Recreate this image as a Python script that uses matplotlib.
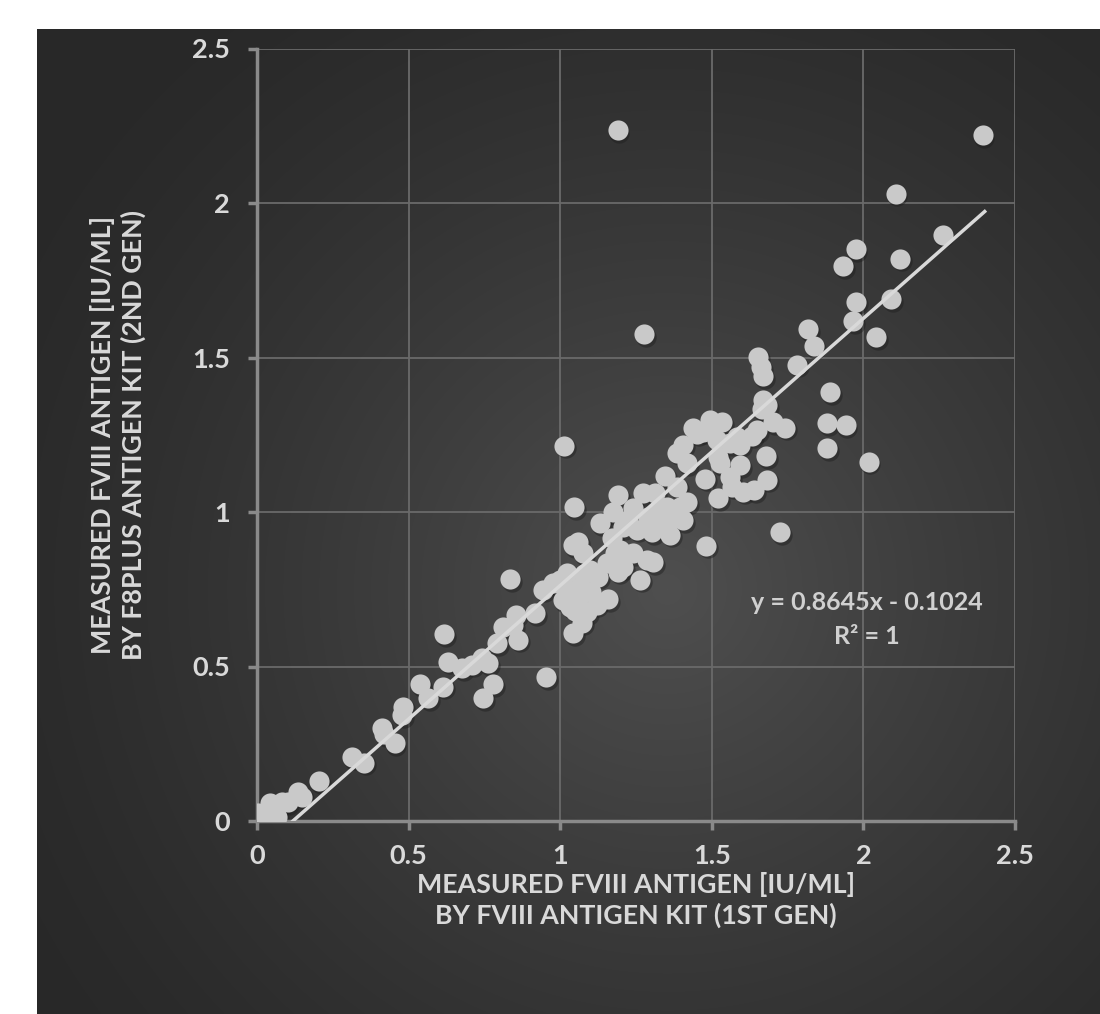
import numpy as np
import matplotlib.pyplot as plt
from matplotlib import transforms

# FVIII antigen measured with the 1st-gen kit (x) and the F8plus kit (y)
kit_1st = [0.003, 0.02, 0.043, 0.053, 0.066, 0.083, 0.102, 0.135, 0.149, 0.205,
           0.314, 0.353, 0.413, 0.42, 0.455, 0.479, 0.482, 0.538, 0.564, 0.614,
           0.617, 0.63, 0.677, 0.71, 0.743, 0.762, 0.746, 0.779, 0.792, 0.812,
           0.835, 0.845, 0.855, 0.861, 0.917, 0.944, 0.954, 0.977, 1.01, 1.023,
           1.033, 1.043, 1.043, 1.073, 1.066, 1.089, 1.013, 1.046, 1.059, 1.076,
           1.099, 1.125, 1.132, 1.155, 1.158, 1.172, 1.175, 1.182, 1.191, 1.191,
           1.198, 1.208, 1.208, 1.224, 1.241, 1.241, 1.254, 1.264, 1.274, 1.287,
           1.29, 1.304, 1.307, 1.313, 1.32, 1.323, 1.34, 1.347, 1.353, 1.363,
           1.373, 1.386, 1.386, 1.396, 1.406, 1.406, 1.419, 1.419, 1.439, 1.452,
           1.472, 1.479, 1.482, 1.495, 1.502, 1.518, 1.521, 1.521, 1.528, 1.535,
           1.561, 1.561, 1.568, 1.584, 1.594, 1.594, 1.604, 1.634, 1.64, 1.65,
           1.653, 1.663, 1.67, 1.67, 1.683, 1.667, 1.68, 1.683, 1.703, 1.743,
           1.726, 1.782, 1.818, 1.838, 1.881, 1.881, 1.891, 1.941, 1.934, 1.967,
           1.974, 1.977, 2.017, 2.043, 2.092, 2.106, 2.122, 2.261, 2.393, 1.19,
           1.277, 1.02, 1.06, 1.10, 1.08, 1.12, 1.0, 1.05]
kit_f8plus = [0.026, 0.013, 0.058, 0.026, 0.013, 0.061, 0.061, 0.094, 0.078, 0.129,
              0.207, 0.188, 0.301, 0.28, 0.252, 0.343, 0.369, 0.443, 0.398, 0.434,
              0.605, 0.515, 0.495, 0.505, 0.527, 0.511, 0.398, 0.443, 0.576, 0.628,
              0.783, 0.634, 0.667, 0.586, 0.673, 0.748, 0.466, 0.77, 0.715, 0.803,
              0.693, 0.608, 0.893, 0.641, 0.757, 0.676, 1.214, 1.016, 0.903, 0.867,
              0.812, 0.79, 0.964, 0.835, 0.718, 0.916, 1.0, 0.867, 0.806, 1.055,
              0.877, 0.822, 0.951, 0.974, 1.013, 0.867, 0.942, 0.78, 1.061, 0.845,
              0.984, 0.935, 0.838, 1.061, 0.951, 1.006, 0.964, 1.117, 1.016, 0.926,
              0.98, 1.081, 1.191, 1.016, 0.974, 1.217, 1.032, 1.158, 1.271, 1.254,
              1.259, 1.107, 0.89, 1.298, 1.275, 1.233, 1.045, 1.178, 1.158, 1.29,
              1.113, 1.223, 1.081, 1.243, 1.217, 1.152, 1.065, 1.246, 1.07, 1.265,
              1.502, 1.469, 1.44, 1.362, 1.346, 1.333, 1.18, 1.104, 1.291, 1.272,
              0.935, 1.476, 1.592, 1.537, 1.288, 1.207, 1.388, 1.281, 1.796, 1.618,
              1.851, 1.68, 1.162, 1.566, 1.689, 2.03, 1.819, 1.897, 2.22, 2.235,
              1.576, 0.75, 0.72, 0.74, 0.80, 0.70, 0.78, 0.68]

slope, intercept = 0.8645, -0.1024
ticks = [0, 0.5, 1, 1.5, 2, 2.5]
tick_labels = ["0", "0.5", "1", "1.5", "2", "2.5"]

W, H = 1100, 1014
fig = plt.figure(figsize=(W / 100, H / 100), dpi=100)
fig.patch.set_facecolor("white")

# dark panel with a soft radial glow
bg = fig.add_axes([37 / W, 0, 1 - 37 / W, (H - 29) / H])
bg.set_axis_off()
nx, ny = 1063, 985
gx, gy = np.meshgrid(np.arange(nx), np.arange(ny))
r = np.hypot(gx - 630, gy - 560) / 720
shade = 0.16 + (0.31 - 0.16) * np.clip(1 - r, 0, 1) ** 1.3
bg.imshow(np.dstack([shade] * 3), aspect="auto", interpolation="bilinear")

ax = fig.add_axes([257 / W, 193 / H, 758 / W, 772.5 / H])
ax.set_facecolor("none")
ax.set_xlim(0, 2.5)
ax.set_ylim(0, 2.5)
ax.set_xticks(ticks)
ax.set_yticks(ticks)
ax.set_xticklabels(tick_labels)
ax.set_yticklabels(tick_labels)
ax.grid(True, color="#6a6a6a", linewidth=1.3)
ax.set_axisbelow(True)
for side in ["top", "right"]:
    ax.spines[side].set_visible(False)
for side in ["left", "bottom"]:
    ax.spines[side].set_color("#8a8a8a")
    ax.spines[side].set_linewidth(2.5)
ax.tick_params(colors="#8a8a8a", width=2.5, length=6.5, labelsize=19.5,
               labelcolor="#d9d9d9")
ax.tick_params(axis="x", pad=10)
ax.tick_params(axis="y", pad=13)
for lab in ax.get_xticklabels() + ax.get_yticklabels():
    lab.set_fontfamily("Lato")
    lab.set_fontweight("bold")

# soft drop shadow under the markers
shadow = transforms.offset_copy(ax.transData, fig=fig, x=1.5, y=-2.5, units="dots")
ax.scatter(kit_1st, kit_f8plus, s=215, color="#1e1e1e", alpha=0.45,
           linewidths=0, transform=shadow, zorder=2)
ax.scatter(kit_1st, kit_f8plus, s=210, color="#c9c9c9", linewidths=0, zorder=3)

# linear trend line
x0 = -intercept / slope
xt = np.array([x0, 2.4])
ax.plot(xt, slope * xt + intercept, color="#d9d9d9", linewidth=2.5, zorder=4)

ax.text(2.01, 0.706, "y = 0.8645x - 0.1024", ha="center", va="center",
        fontsize=18, color="#d0d0d0", family="Lato", fontweight="bold")
ax.text(2.01, 0.596, "R² = 1", ha="center", va="center",
        fontsize=18, color="#d0d0d0", family="Lato", fontweight="bold")

fig.text(636 / W, 1 - 900 / H,
         "MEASURED FVIII ANTIGEN [IU/ML]\nBY FVIII ANTIGEN KIT (1ST GEN)",
         ha="center", va="center", fontsize=19.3, color="#d9d9d9",
         family="Lato", fontweight="bold", linespacing=1.3)
fig.text(118 / W, 1 - 435 / H,
         "MEASURED FVIII ANTIGEN [IU/ML]\nBY F8PLUS ANTIGEN KIT (2ND GEN)",
         ha="center", va="center", rotation=90, fontsize=19.3, color="#d9d9d9",
         family="Lato", fontweight="bold", linespacing=1.3)

fig.savefig("out.png", dpi=100)
